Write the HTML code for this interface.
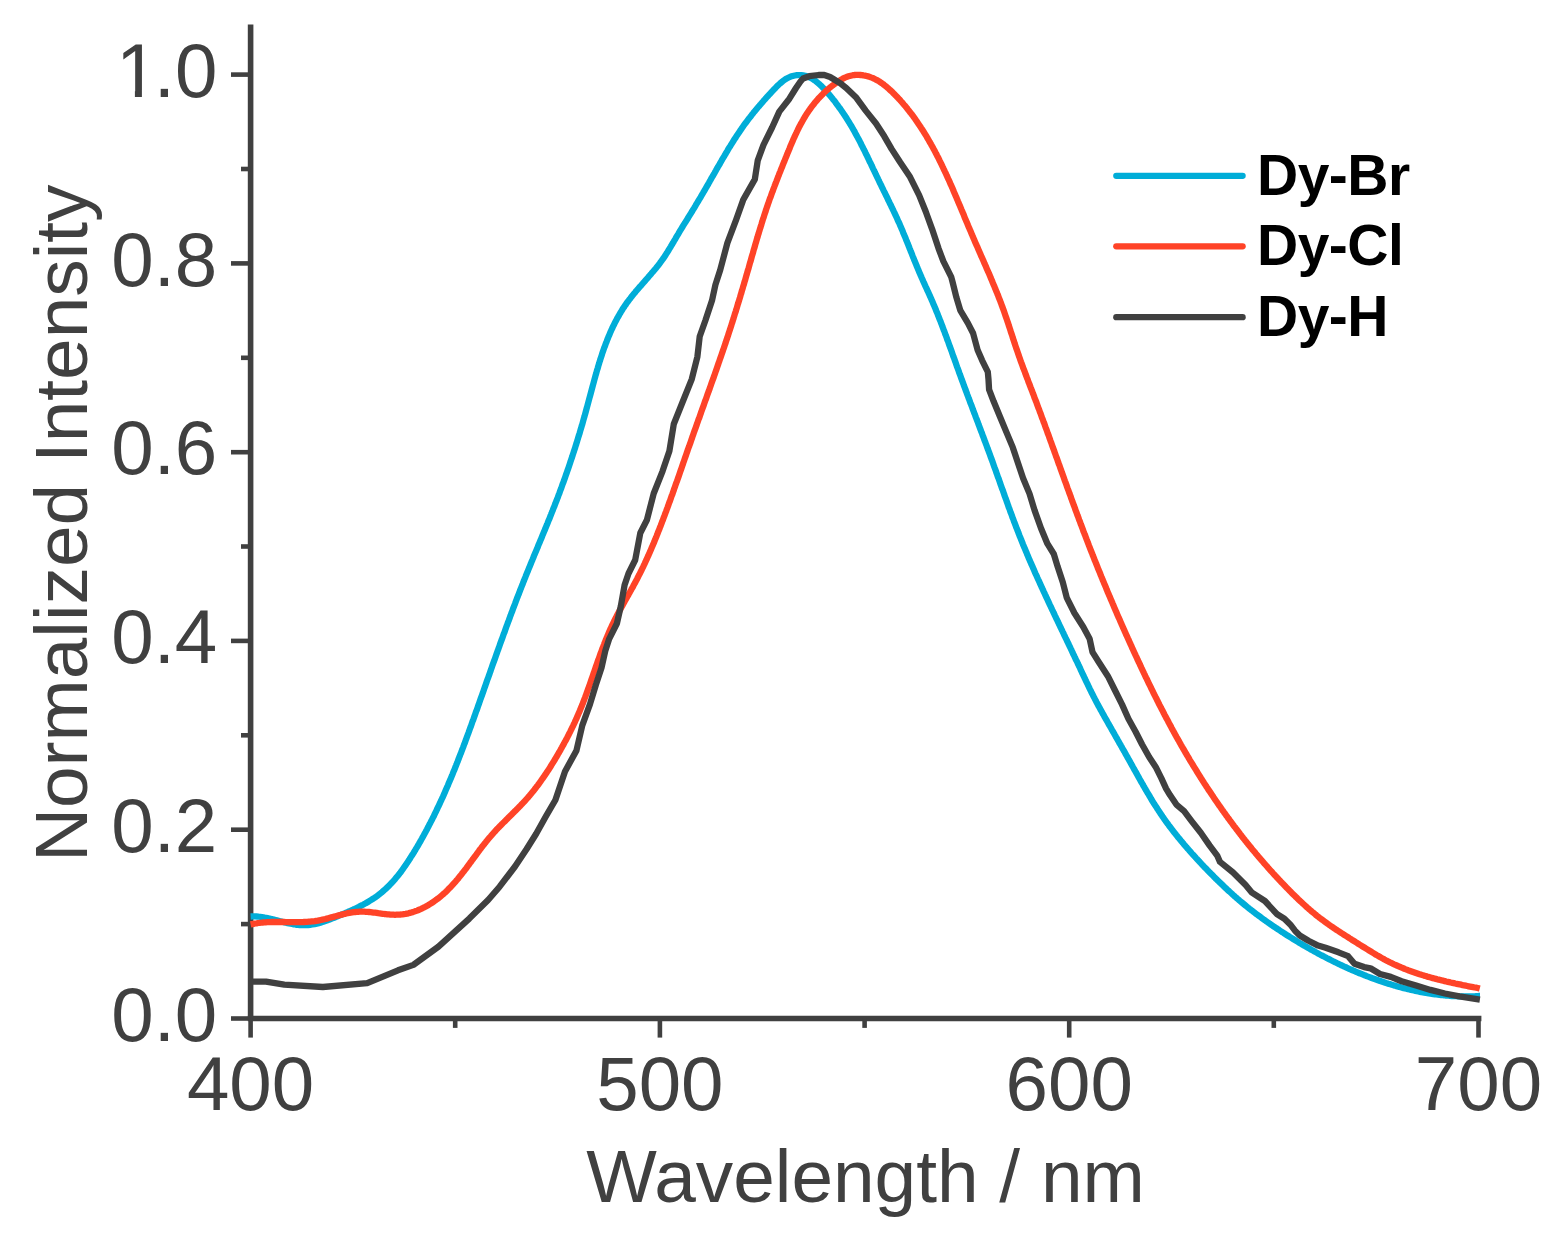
<!DOCTYPE html>
<html><head><meta charset="utf-8"><title>Normalized Intensity vs Wavelength</title>
<style>
html,body{margin:0;padding:0;background:#fff;}
body{width:1557px;height:1248px;overflow:hidden;}
svg{display:block;}
.t{font-family:"Liberation Sans",Arial,sans-serif;font-size:76.3px;fill:#404040;}
.ti{font-family:"Liberation Sans",Arial,sans-serif;font-size:74.8px;fill:#404040;}
.lg{font-family:"Liberation Sans",Arial,sans-serif;font-size:57px;font-weight:bold;fill:#000;letter-spacing:-0.5px;}
</style></head>
<body>
<svg width="1557" height="1248" viewBox="0 0 1557 1248">
<rect width="1557" height="1248" fill="#fff"/>
<line x1="250.6" y1="24.4" x2="250.6" y2="1018.5" stroke="#404040" stroke-width="5.6"/>
<line x1="247.8" y1="1018.5" x2="1481.4" y2="1018.5" stroke="#404040" stroke-width="5.6"/>
<line x1="231" y1="1018.5" x2="250.6" y2="1018.5" stroke="#404040" stroke-width="4.6"/>
<line x1="241" y1="924.1" x2="250.6" y2="924.1" stroke="#404040" stroke-width="4.6"/>
<line x1="231" y1="829.7" x2="250.6" y2="829.7" stroke="#404040" stroke-width="4.6"/>
<line x1="241" y1="735.3" x2="250.6" y2="735.3" stroke="#404040" stroke-width="4.6"/>
<line x1="231" y1="640.9" x2="250.6" y2="640.9" stroke="#404040" stroke-width="4.6"/>
<line x1="241" y1="546.5" x2="250.6" y2="546.5" stroke="#404040" stroke-width="4.6"/>
<line x1="231" y1="452.2" x2="250.6" y2="452.2" stroke="#404040" stroke-width="4.6"/>
<line x1="241" y1="357.8" x2="250.6" y2="357.8" stroke="#404040" stroke-width="4.6"/>
<line x1="231" y1="263.4" x2="250.6" y2="263.4" stroke="#404040" stroke-width="4.6"/>
<line x1="241" y1="169.0" x2="250.6" y2="169.0" stroke="#404040" stroke-width="4.6"/>
<line x1="231" y1="74.6" x2="250.6" y2="74.6" stroke="#404040" stroke-width="4.6"/>
<line x1="250.6" y1="1018.5" x2="250.6" y2="1037.6" stroke="#404040" stroke-width="4.6"/>
<line x1="455.2" y1="1018.5" x2="455.2" y2="1027.9" stroke="#404040" stroke-width="4.6"/>
<line x1="659.9" y1="1018.5" x2="659.9" y2="1037.6" stroke="#404040" stroke-width="4.6"/>
<line x1="864.6" y1="1018.5" x2="864.6" y2="1027.9" stroke="#404040" stroke-width="4.6"/>
<line x1="1069.2" y1="1018.5" x2="1069.2" y2="1037.6" stroke="#404040" stroke-width="4.6"/>
<line x1="1273.8" y1="1018.5" x2="1273.8" y2="1027.9" stroke="#404040" stroke-width="4.6"/>
<line x1="1478.5" y1="1018.5" x2="1478.5" y2="1037.6" stroke="#404040" stroke-width="4.6"/>
<path d="M250.6,916.5 L252.8,916.4 L255.0,916.4 L257.3,916.5 L258.8,916.7 L260.3,916.8 L261.8,917.0 L263.3,917.3 L264.8,917.6 L266.3,917.8 L267.8,918.2 L269.3,918.5 L270.8,918.9 L272.4,919.2 L273.9,919.6 L275.4,920.0 L276.9,920.4 L278.5,920.8 L280.0,921.2 L281.5,921.6 L283.1,922.0 L284.6,922.4 L286.1,922.7 L287.6,923.1 L289.1,923.4 L290.7,923.7 L292.2,924.0 L293.7,924.3 L295.2,924.5 L296.7,924.8 L298.2,924.9 L299.7,925.1 L301.2,925.2 L303.5,925.2 L305.7,925.2 L307.9,925.1 L310.1,924.8 L312.3,924.5 L314.5,924.1 L316.7,923.6 L318.8,923.1 L320.3,922.7 L321.7,922.2 L323.2,921.8 L324.6,921.3 L326.0,920.8 L327.5,920.3 L328.9,919.7 L330.4,919.2 L331.8,918.6 L333.2,918.1 L334.7,917.5 L336.1,916.9 L337.5,916.3 L339.0,915.7 L340.4,915.1 L341.8,914.5 L343.3,913.9 L344.7,913.3 L346.1,912.7 L347.6,912.1 L349.0,911.4 L350.4,910.8 L351.8,910.2 L353.3,909.5 L354.7,908.9 L356.1,908.2 L357.5,907.5 L358.9,906.8 L360.2,906.1 L361.6,905.4 L363.0,904.7 L364.3,904.0 L365.7,903.3 L367.0,902.5 L368.3,901.7 L369.6,900.9 L370.9,900.1 L372.2,899.3 L373.5,898.5 L374.8,897.6 L376.0,896.8 L377.2,895.9 L378.4,895.0 L379.6,894.1 L380.8,893.1 L382.0,892.2 L383.1,891.2 L384.2,890.2 L385.4,889.2 L386.5,888.2 L387.5,887.1 L388.6,886.1 L389.7,885.0 L390.7,883.9 L391.7,882.8 L392.8,881.7 L393.8,880.6 L394.8,879.4 L395.7,878.3 L396.7,877.1 L397.7,875.9 L398.6,874.8 L399.5,873.6 L400.5,872.4 L401.4,871.1 L402.3,869.9 L403.2,868.7 L404.0,867.4 L404.9,866.2 L405.8,864.9 L406.6,863.6 L407.5,862.4 L408.3,861.1 L409.2,859.8 L410.0,858.5 L410.8,857.2 L411.6,855.9 L412.5,854.6 L413.3,853.3 L414.1,852.0 L414.9,850.7 L415.6,849.4 L416.4,848.1 L417.2,846.8 L418.0,845.5 L418.8,844.1 L419.5,842.8 L420.3,841.5 L421.0,840.2 L421.8,838.8 L422.5,837.5 L423.3,836.2 L424.0,834.8 L424.7,833.5 L425.5,832.1 L426.2,830.8 L426.9,829.5 L427.6,828.1 L428.3,826.8 L429.0,825.4 L429.7,824.0 L430.4,822.7 L431.1,821.3 L431.8,820.0 L432.5,818.6 L433.2,817.2 L433.9,815.9 L434.5,814.5 L435.2,813.1 L435.9,811.8 L436.5,810.4 L437.2,809.0 L437.8,807.6 L438.5,806.3 L439.1,804.9 L439.8,803.5 L440.4,802.1 L441.1,800.7 L441.7,799.3 L442.3,798.0 L443.0,796.6 L443.6,795.2 L444.2,793.8 L444.8,792.4 L445.4,791.0 L446.0,789.6 L446.6,788.2 L447.2,786.8 L447.9,785.4 L448.4,784.0 L449.0,782.6 L449.6,781.2 L450.2,779.8 L450.8,778.4 L451.4,777.0 L452.0,775.6 L452.6,774.1 L453.1,772.7 L453.7,771.3 L454.3,769.9 L454.9,768.5 L455.4,767.1 L456.0,765.7 L456.6,764.2 L457.1,762.8 L457.7,761.4 L458.2,760.0 L458.8,758.5 L459.3,757.1 L459.9,755.7 L460.4,754.3 L461.0,752.9 L461.5,751.4 L462.1,750.0 L462.6,748.6 L463.2,747.1 L463.7,745.7 L464.2,744.3 L464.8,742.9 L465.3,741.4 L465.8,740.0 L466.4,738.6 L466.9,737.1 L467.4,735.7 L467.9,734.3 L468.5,732.8 L469.0,731.4 L469.5,730.0 L470.0,728.5 L470.6,727.1 L471.1,725.7 L471.6,724.2 L472.1,722.8 L472.6,721.3 L473.2,719.9 L473.7,718.5 L474.2,717.0 L474.7,715.6 L475.2,714.2 L475.7,712.7 L476.2,711.3 L476.8,709.9 L477.3,708.4 L477.8,707.0 L478.3,705.5 L478.8,704.1 L479.3,702.7 L479.8,701.2 L480.3,699.8 L480.8,698.4 L481.3,696.9 L481.9,695.5 L482.4,694.0 L482.9,692.6 L483.4,691.2 L483.9,689.7 L484.4,688.3 L484.9,686.9 L485.4,685.4 L485.9,684.0 L486.4,682.6 L486.9,681.1 L487.4,679.7 L488.0,678.2 L488.5,676.8 L489.0,675.4 L489.5,673.9 L490.0,672.5 L490.5,671.1 L491.0,669.6 L491.5,668.2 L492.0,666.8 L492.5,665.3 L493.0,663.9 L493.5,662.5 L494.1,661.0 L494.6,659.6 L495.1,658.2 L495.6,656.7 L496.1,655.3 L496.6,653.9 L497.1,652.4 L497.6,651.0 L498.2,649.6 L498.7,648.1 L499.2,646.7 L499.7,645.3 L500.2,643.8 L500.7,642.4 L501.2,641.0 L501.8,639.5 L502.3,638.1 L502.8,636.7 L503.3,635.2 L503.8,633.8 L504.4,632.4 L504.9,630.9 L505.4,629.5 L505.9,628.1 L506.4,626.7 L507.0,625.2 L507.5,623.8 L508.0,622.4 L508.6,620.9 L509.1,619.5 L509.6,618.1 L510.1,616.7 L510.7,615.2 L511.2,613.8 L511.7,612.4 L512.3,611.0 L512.8,609.5 L513.3,608.1 L513.9,606.7 L514.4,605.3 L515.0,603.8 L515.5,602.4 L516.0,601.0 L516.6,599.6 L517.1,598.1 L517.7,596.7 L518.2,595.3 L518.8,593.9 L519.3,592.4 L519.9,591.0 L520.4,589.6 L521.0,588.2 L521.5,586.8 L522.1,585.3 L522.7,583.9 L523.2,582.5 L523.8,581.1 L524.3,579.7 L524.9,578.3 L525.5,576.8 L526.0,575.4 L526.6,574.0 L527.2,572.6 L527.8,571.2 L528.3,569.8 L528.9,568.3 L529.5,566.9 L530.1,565.5 L530.7,564.1 L531.2,562.7 L531.8,561.3 L532.4,559.9 L533.0,558.4 L533.6,557.0 L534.1,555.6 L534.7,554.2 L535.3,552.8 L535.9,551.4 L536.5,550.0 L537.1,548.6 L537.7,547.2 L538.2,545.7 L538.8,544.3 L539.4,542.9 L540.0,541.5 L540.6,540.1 L541.2,538.7 L541.8,537.3 L542.3,535.9 L542.9,534.4 L543.5,533.0 L544.1,531.6 L544.7,530.2 L545.3,528.8 L545.8,527.4 L546.4,526.0 L547.0,524.6 L547.6,523.1 L548.1,521.7 L548.7,520.3 L549.3,518.9 L549.9,517.5 L550.4,516.1 L551.0,514.7 L551.6,513.2 L552.1,511.8 L552.7,510.4 L553.2,509.0 L553.8,507.6 L554.4,506.2 L554.9,504.7 L555.5,503.3 L556.0,501.9 L556.6,500.5 L557.1,499.1 L557.7,497.6 L558.2,496.2 L558.7,494.8 L559.3,493.4 L559.8,492.0 L560.3,490.5 L560.9,489.1 L561.4,487.7 L561.9,486.3 L562.4,484.8 L562.9,483.4 L563.5,482.0 L564.0,480.5 L564.5,479.1 L565.0,477.7 L565.5,476.3 L566.0,474.8 L566.5,473.4 L567.0,472.0 L567.5,470.5 L568.0,469.1 L568.5,467.7 L569.0,466.2 L569.5,464.8 L570.0,463.3 L570.4,461.9 L570.9,460.5 L571.4,459.0 L571.9,457.6 L572.4,456.1 L572.8,454.7 L573.3,453.3 L573.8,451.8 L574.2,450.4 L574.7,448.9 L575.2,447.5 L575.6,446.0 L576.1,444.6 L576.5,443.1 L577.0,441.7 L577.4,440.2 L577.9,438.8 L578.3,437.3 L578.8,435.8 L579.2,434.4 L579.7,432.9 L580.1,431.5 L580.5,430.0 L581.0,428.5 L581.4,427.1 L581.8,425.6 L582.3,424.2 L582.7,422.7 L583.1,421.2 L583.5,419.7 L583.9,418.3 L584.4,416.8 L584.8,415.3 L585.2,413.9 L585.6,412.4 L586.0,410.9 L586.4,409.4 L586.8,407.9 L587.2,406.5 L587.6,405.0 L588.0,403.5 L588.4,402.0 L588.8,400.5 L589.2,399.0 L589.6,397.5 L590.0,396.1 L590.4,394.6 L590.8,393.1 L591.2,391.6 L591.6,390.1 L592.0,388.6 L592.4,387.1 L592.8,385.7 L593.2,384.2 L593.6,382.7 L594.0,381.2 L594.4,379.7 L594.8,378.2 L595.2,376.8 L595.6,375.3 L596.1,373.8 L596.5,372.3 L596.9,370.8 L597.3,369.4 L597.8,367.9 L598.2,366.4 L598.6,365.0 L599.1,363.5 L599.5,362.0 L600.0,360.6 L600.4,359.1 L600.9,357.7 L601.4,356.2 L601.9,354.8 L602.3,353.3 L602.8,351.9 L603.3,350.4 L603.8,349.0 L604.3,347.6 L604.9,346.2 L605.4,344.7 L605.9,343.3 L606.5,341.9 L607.0,340.5 L607.6,339.1 L608.1,337.7 L608.7,336.3 L609.3,334.9 L609.9,333.5 L610.5,332.1 L611.1,330.7 L611.7,329.4 L612.4,328.0 L613.0,326.6 L613.7,325.3 L614.3,323.9 L615.0,322.6 L615.7,321.3 L616.4,319.9 L617.1,318.6 L617.8,317.3 L618.6,316.0 L619.3,314.7 L620.1,313.4 L620.8,312.1 L621.6,310.8 L622.4,309.5 L623.2,308.2 L624.1,307.0 L624.9,305.7 L625.8,304.5 L626.6,303.2 L627.5,302.0 L628.4,300.8 L629.3,299.6 L630.3,298.4 L631.2,297.2 L632.1,296.0 L633.1,294.8 L634.1,293.6 L635.1,292.4 L636.0,291.2 L637.0,290.1 L638.0,288.9 L639.0,287.7 L640.1,286.6 L641.1,285.4 L642.1,284.2 L643.1,283.1 L644.1,281.9 L645.2,280.8 L646.2,279.6 L647.2,278.4 L648.2,277.3 L649.2,276.1 L650.2,274.9 L651.2,273.8 L652.2,272.6 L653.2,271.4 L654.2,270.2 L655.2,269.1 L656.2,267.9 L657.1,266.7 L658.1,265.5 L659.0,264.3 L659.9,263.1 L660.8,261.8 L661.7,260.6 L662.6,259.4 L663.5,258.1 L664.3,256.9 L665.2,255.6 L666.0,254.3 L666.8,253.1 L667.6,251.8 L668.4,250.5 L669.2,249.2 L670.0,247.9 L670.8,246.6 L671.5,245.3 L672.3,244.0 L673.1,242.7 L673.8,241.4 L674.6,240.1 L675.4,238.8 L676.1,237.5 L676.9,236.2 L677.7,234.9 L678.5,233.6 L679.2,232.3 L680.0,230.9 L680.8,229.6 L681.6,228.3 L682.4,227.0 L683.2,225.7 L684.0,224.4 L684.8,223.1 L685.6,221.9 L686.4,220.6 L687.2,219.3 L688.0,218.0 L688.8,216.7 L689.6,215.4 L690.4,214.1 L691.2,212.8 L692.0,211.5 L692.8,210.2 L693.6,208.9 L694.4,207.6 L695.2,206.2 L695.9,204.9 L696.7,203.6 L697.5,202.3 L698.3,201.0 L699.1,199.7 L699.9,198.4 L700.7,197.1 L701.4,195.8 L702.2,194.4 L703.0,193.1 L703.7,191.8 L704.5,190.5 L705.3,189.2 L706.0,187.8 L706.8,186.5 L707.6,185.2 L708.3,183.9 L709.1,182.5 L709.8,181.2 L710.6,179.9 L711.3,178.5 L712.1,177.2 L712.9,175.9 L713.6,174.6 L714.4,173.2 L715.1,171.9 L715.9,170.6 L716.6,169.3 L717.4,167.9 L718.1,166.6 L718.9,165.3 L719.7,164.0 L720.4,162.6 L721.2,161.3 L721.9,160.0 L722.7,158.7 L723.5,157.4 L724.3,156.1 L725.0,154.8 L725.8,153.5 L726.6,152.1 L727.4,150.8 L728.1,149.5 L728.9,148.2 L729.7,146.9 L730.5,145.7 L731.3,144.4 L732.1,143.1 L732.9,141.8 L733.7,140.5 L734.5,139.2 L735.4,138.0 L736.2,136.7 L737.0,135.4 L737.9,134.2 L738.7,132.9 L739.5,131.7 L740.4,130.4 L741.2,129.2 L742.1,127.9 L743.0,126.7 L743.8,125.4 L744.7,124.2 L745.6,123.0 L746.5,121.8 L747.4,120.6 L748.3,119.4 L749.2,118.2 L750.2,117.0 L751.1,115.8 L752.0,114.6 L753.0,113.4 L753.9,112.2 L754.9,111.1 L755.8,109.9 L756.8,108.7 L757.8,107.5 L758.8,106.4 L759.8,105.2 L760.8,104.1 L761.8,102.9 L762.8,101.8 L763.8,100.6 L764.8,99.4 L765.9,98.3 L766.9,97.1 L768.0,96.0 L769.0,94.8 L770.1,93.7 L771.1,92.5 L772.2,91.3 L773.3,90.2 L774.4,89.0 L775.5,87.9 L776.6,86.7 L777.7,85.6 L778.9,84.5 L780.0,83.5 L781.2,82.5 L782.4,81.5 L783.6,80.6 L784.8,79.7 L786.7,78.5 L788.7,77.5 L790.7,76.6 L792.7,76.0 L794.8,75.5 L796.9,75.2 L799.1,75.1 L801.2,75.1 L803.3,75.4 L805.4,75.8 L807.4,76.4 L809.4,77.3 L811.3,78.2 L813.2,79.4 L814.5,80.2 L815.7,81.1 L816.9,82.1 L818.1,83.1 L819.3,84.1 L820.5,85.2 L821.6,86.3 L822.7,87.4 L823.8,88.6 L824.9,89.7 L826.0,90.9 L827.1,92.1 L828.1,93.3 L829.2,94.6 L830.2,95.8 L831.2,97.0 L832.2,98.2 L833.1,99.4 L834.1,100.6 L835.1,101.8 L836.0,103.1 L836.9,104.3 L837.8,105.5 L838.7,106.8 L839.6,108.0 L840.5,109.2 L841.4,110.5 L842.2,111.7 L843.1,113.0 L843.9,114.2 L844.8,115.5 L845.6,116.8 L846.4,118.0 L847.2,119.3 L848.0,120.6 L849.2,122.5 L850.3,124.4 L851.5,126.3 L852.6,128.3 L853.7,130.2 L854.5,131.5 L855.2,132.9 L855.9,134.2 L856.6,135.5 L857.3,136.8 L858.1,138.2 L858.8,139.5 L859.5,140.8 L860.2,142.2 L860.9,143.5 L861.5,144.9 L862.2,146.2 L862.9,147.6 L863.6,149.0 L864.3,150.3 L865.0,151.7 L865.6,153.1 L866.3,154.5 L867.0,155.8 L867.6,157.2 L868.3,158.6 L869.0,160.0 L869.6,161.4 L870.3,162.7 L871.0,164.1 L871.6,165.5 L872.3,166.9 L872.9,168.3 L873.6,169.7 L874.3,171.0 L874.9,172.4 L875.6,173.8 L876.2,175.2 L876.9,176.6 L877.6,178.0 L878.2,179.3 L878.9,180.7 L879.5,182.1 L880.2,183.5 L880.9,184.8 L881.5,186.2 L882.2,187.6 L882.9,189.0 L883.5,190.3 L884.2,191.7 L884.9,193.1 L885.6,194.4 L886.2,195.8 L886.9,197.1 L887.6,198.5 L888.2,199.9 L888.9,201.2 L889.5,202.6 L890.2,204.0 L890.9,205.3 L891.5,206.7 L892.2,208.0 L892.8,209.4 L893.5,210.8 L894.1,212.1 L894.8,213.5 L895.4,214.9 L896.0,216.2 L896.7,217.6 L897.3,219.0 L897.9,220.4 L898.5,221.8 L899.2,223.1 L899.8,224.5 L900.4,225.9 L901.0,227.3 L901.6,228.7 L902.2,230.1 L902.8,231.5 L903.3,232.9 L903.9,234.3 L904.5,235.7 L905.1,237.1 L905.7,238.5 L906.2,239.9 L906.8,241.3 L907.4,242.7 L907.9,244.1 L908.5,245.5 L909.1,247.0 L909.6,248.4 L910.2,249.8 L910.7,251.2 L911.3,252.6 L911.9,254.0 L912.4,255.4 L913.0,256.9 L913.6,258.3 L914.1,259.7 L914.7,261.1 L915.3,262.5 L915.9,263.9 L916.4,265.3 L917.0,266.7 L917.6,268.1 L918.2,269.6 L918.8,271.0 L919.4,272.4 L920.0,273.8 L920.6,275.2 L921.2,276.6 L921.8,278.0 L922.4,279.3 L923.0,280.7 L923.6,282.1 L924.3,283.5 L924.9,284.9 L925.5,286.3 L926.2,287.7 L926.8,289.1 L927.4,290.5 L928.1,291.8 L928.7,293.2 L929.3,294.6 L929.9,296.0 L930.6,297.4 L931.2,298.8 L931.8,300.2 L932.4,301.6 L933.0,303.0 L933.6,304.4 L934.2,305.8 L934.8,307.2 L935.4,308.6 L935.9,310.0 L936.5,311.4 L937.1,312.8 L937.7,314.2 L938.2,315.7 L938.8,317.1 L939.3,318.5 L939.9,319.9 L940.5,321.3 L941.0,322.8 L941.6,324.2 L942.1,325.6 L942.6,327.0 L943.2,328.4 L943.7,329.9 L944.3,331.3 L944.8,332.7 L945.3,334.2 L945.9,335.6 L946.4,337.0 L946.9,338.4 L947.4,339.9 L948.0,341.3 L948.5,342.7 L949.0,344.2 L949.5,345.6 L950.0,347.0 L950.6,348.5 L951.1,349.9 L951.6,351.3 L952.1,352.8 L952.6,354.2 L953.1,355.7 L953.6,357.1 L954.2,358.5 L954.7,360.0 L955.2,361.4 L955.7,362.8 L956.2,364.3 L956.7,365.7 L957.2,367.1 L957.8,368.6 L958.3,370.0 L958.8,371.4 L959.3,372.9 L959.8,374.3 L960.4,375.7 L960.9,377.2 L961.4,378.6 L961.9,380.0 L962.5,381.5 L963.0,382.9 L963.5,384.3 L964.0,385.8 L964.6,387.2 L965.1,388.6 L965.6,390.0 L966.2,391.5 L966.7,392.9 L967.2,394.3 L967.8,395.8 L968.3,397.2 L968.8,398.6 L969.4,400.0 L969.9,401.5 L970.4,402.9 L971.0,404.3 L971.5,405.7 L972.1,407.2 L972.6,408.6 L973.1,410.0 L973.7,411.4 L974.2,412.9 L974.8,414.3 L975.3,415.7 L975.8,417.1 L976.4,418.6 L976.9,420.0 L977.5,421.4 L978.0,422.8 L978.5,424.3 L979.1,425.7 L979.6,427.1 L980.1,428.5 L980.7,430.0 L981.2,431.4 L981.8,432.8 L982.3,434.2 L982.8,435.7 L983.4,437.1 L983.9,438.5 L984.4,440.0 L985.0,441.4 L985.5,442.8 L986.0,444.2 L986.6,445.7 L987.1,447.1 L987.6,448.5 L988.2,450.0 L988.7,451.4 L989.2,452.8 L989.8,454.2 L990.3,455.7 L990.8,457.1 L991.3,458.5 L991.9,460.0 L992.4,461.4 L992.9,462.8 L993.4,464.3 L993.9,465.7 L994.4,467.1 L995.0,468.6 L995.5,470.0 L996.0,471.4 L996.5,472.9 L997.0,474.3 L997.5,475.8 L998.0,477.2 L998.6,478.6 L999.1,480.1 L999.6,481.5 L1000.1,482.9 L1000.6,484.4 L1001.1,485.8 L1001.6,487.3 L1002.1,488.7 L1002.7,490.1 L1003.2,491.6 L1003.7,493.0 L1004.2,494.4 L1004.7,495.9 L1005.2,497.3 L1005.7,498.7 L1006.3,500.2 L1006.8,501.6 L1007.3,503.1 L1007.8,504.5 L1008.3,505.9 L1008.8,507.4 L1009.4,508.8 L1009.9,510.2 L1010.4,511.7 L1010.9,513.1 L1011.5,514.5 L1012.0,515.9 L1012.5,517.4 L1013.1,518.8 L1013.6,520.2 L1014.1,521.7 L1014.7,523.1 L1015.2,524.5 L1015.8,525.9 L1016.3,527.4 L1016.9,528.8 L1017.4,530.2 L1018.0,531.6 L1018.5,533.0 L1019.1,534.5 L1019.6,535.9 L1020.2,537.3 L1020.8,538.7 L1021.3,540.1 L1021.9,541.5 L1022.5,543.0 L1023.0,544.4 L1023.6,545.8 L1024.2,547.2 L1024.8,548.6 L1025.4,550.0 L1026.0,551.4 L1026.6,552.8 L1027.1,554.2 L1027.7,555.6 L1028.3,557.0 L1028.9,558.4 L1029.5,559.8 L1030.1,561.2 L1030.7,562.6 L1031.3,564.0 L1032.0,565.4 L1032.6,566.8 L1033.2,568.2 L1033.8,569.6 L1034.4,571.0 L1035.0,572.4 L1035.6,573.8 L1036.3,575.2 L1036.9,576.6 L1037.5,578.0 L1038.1,579.3 L1038.8,580.7 L1039.4,582.1 L1040.0,583.5 L1040.7,584.9 L1041.3,586.3 L1041.9,587.7 L1042.6,589.1 L1043.2,590.4 L1043.8,591.8 L1044.5,593.2 L1045.1,594.6 L1045.8,596.0 L1046.4,597.4 L1047.0,598.7 L1047.7,600.1 L1048.3,601.5 L1049.0,602.9 L1049.6,604.3 L1050.3,605.7 L1050.9,607.0 L1051.6,608.4 L1052.2,609.8 L1052.9,611.2 L1053.5,612.5 L1054.2,613.9 L1054.8,615.3 L1055.5,616.7 L1056.1,618.1 L1056.8,619.4 L1057.5,620.8 L1058.1,622.2 L1058.8,623.6 L1059.4,624.9 L1060.1,626.3 L1060.7,627.7 L1061.4,629.1 L1062.1,630.5 L1062.7,631.8 L1063.4,633.2 L1064.0,634.6 L1064.7,636.0 L1065.3,637.3 L1066.0,638.7 L1066.7,640.1 L1067.3,641.5 L1068.0,642.8 L1068.6,644.2 L1069.3,645.6 L1070.0,647.0 L1070.6,648.3 L1071.3,649.7 L1071.9,651.1 L1072.6,652.5 L1073.2,653.9 L1073.9,655.2 L1074.5,656.6 L1075.2,658.0 L1075.8,659.4 L1076.5,660.7 L1077.2,662.1 L1077.8,663.5 L1078.5,664.9 L1079.1,666.3 L1079.8,667.6 L1080.4,669.0 L1081.0,670.4 L1081.7,671.8 L1082.3,673.2 L1083.0,674.5 L1083.6,675.9 L1084.3,677.3 L1084.9,678.7 L1085.6,680.1 L1086.2,681.4 L1086.9,682.8 L1087.6,684.2 L1088.2,685.6 L1088.9,686.9 L1089.5,688.3 L1090.2,689.7 L1090.9,691.0 L1091.5,692.4 L1092.2,693.8 L1092.9,695.1 L1093.6,696.5 L1094.3,697.8 L1095.0,699.2 L1095.7,700.5 L1096.4,701.9 L1097.1,703.2 L1097.8,704.6 L1098.5,705.9 L1099.3,707.3 L1100.0,708.6 L1100.7,709.9 L1101.5,711.3 L1102.2,712.6 L1102.9,713.9 L1103.7,715.2 L1104.4,716.6 L1105.2,717.9 L1105.9,719.2 L1106.7,720.5 L1107.4,721.8 L1108.2,723.2 L1108.9,724.5 L1109.7,725.8 L1110.4,727.1 L1111.2,728.4 L1111.9,729.8 L1112.7,731.1 L1113.4,732.4 L1114.2,733.7 L1114.9,735.0 L1115.7,736.4 L1116.4,737.7 L1117.2,739.0 L1117.9,740.3 L1118.7,741.6 L1119.4,743.0 L1120.2,744.3 L1120.9,745.6 L1121.7,746.9 L1122.4,748.3 L1123.2,749.6 L1123.9,750.9 L1124.7,752.2 L1125.4,753.5 L1126.1,754.9 L1126.9,756.2 L1127.6,757.5 L1128.4,758.8 L1129.1,760.2 L1129.9,761.5 L1130.6,762.8 L1131.3,764.2 L1132.1,765.5 L1132.8,766.8 L1133.6,768.2 L1134.3,769.5 L1135.1,770.8 L1135.8,772.2 L1136.6,773.5 L1137.3,774.8 L1138.0,776.2 L1138.8,777.5 L1139.5,778.8 L1140.3,780.2 L1141.0,781.5 L1141.8,782.8 L1142.6,784.1 L1143.3,785.5 L1144.1,786.8 L1144.8,788.1 L1145.6,789.5 L1146.4,790.8 L1147.1,792.1 L1147.9,793.4 L1148.7,794.7 L1149.5,796.0 L1150.3,797.3 L1151.0,798.7 L1151.8,800.0 L1152.6,801.3 L1153.4,802.6 L1154.2,803.9 L1155.1,805.2 L1155.9,806.4 L1156.7,807.7 L1157.5,809.0 L1158.4,810.3 L1159.2,811.6 L1160.0,812.8 L1160.9,814.1 L1161.7,815.3 L1162.6,816.6 L1163.5,817.8 L1164.3,819.1 L1165.2,820.3 L1166.1,821.6 L1167.0,822.8 L1167.9,824.0 L1168.8,825.3 L1169.7,826.5 L1170.6,827.7 L1171.5,828.9 L1172.5,830.1 L1173.4,831.3 L1174.3,832.5 L1175.3,833.7 L1176.2,834.9 L1177.2,836.1 L1178.1,837.3 L1179.1,838.4 L1180.0,839.6 L1181.0,840.8 L1182.0,841.9 L1182.9,843.1 L1183.9,844.3 L1184.9,845.4 L1185.9,846.6 L1186.9,847.7 L1187.9,848.9 L1188.9,850.0 L1189.9,851.2 L1190.9,852.3 L1191.9,853.5 L1192.9,854.6 L1194.0,855.7 L1195.0,856.8 L1196.0,858.0 L1197.0,859.1 L1198.1,860.2 L1199.1,861.3 L1200.2,862.4 L1201.2,863.6 L1202.2,864.7 L1203.3,865.8 L1204.3,866.9 L1205.4,868.0 L1206.5,869.1 L1207.5,870.2 L1208.6,871.3 L1209.6,872.4 L1210.7,873.4 L1211.8,874.5 L1212.9,875.6 L1213.9,876.7 L1215.0,877.8 L1216.1,878.9 L1217.2,879.9 L1218.3,881.0 L1219.4,882.1 L1220.5,883.1 L1221.6,884.2 L1222.7,885.2 L1223.8,886.3 L1224.9,887.3 L1226.0,888.4 L1227.1,889.4 L1228.2,890.5 L1229.4,891.5 L1230.5,892.5 L1231.6,893.5 L1232.7,894.6 L1233.9,895.6 L1235.0,896.6 L1236.2,897.6 L1237.3,898.6 L1238.5,899.6 L1239.6,900.6 L1240.8,901.6 L1241.9,902.5 L1243.1,903.5 L1244.3,904.5 L1245.5,905.5 L1246.6,906.4 L1247.8,907.4 L1249.0,908.3 L1250.2,909.3 L1251.4,910.2 L1252.6,911.1 L1253.8,912.1 L1255.0,913.0 L1256.2,913.9 L1257.4,914.8 L1258.6,915.7 L1259.9,916.6 L1261.1,917.5 L1262.3,918.4 L1263.5,919.3 L1264.8,920.2 L1266.0,921.1 L1267.3,922.0 L1268.5,922.8 L1269.7,923.7 L1271.0,924.6 L1272.2,925.4 L1273.5,926.3 L1274.8,927.2 L1276.0,928.0 L1277.3,928.8 L1278.6,929.7 L1279.8,930.5 L1281.1,931.4 L1282.4,932.2 L1283.6,933.0 L1284.9,933.8 L1286.2,934.7 L1287.5,935.5 L1288.8,936.3 L1290.1,937.1 L1291.4,937.9 L1292.7,938.7 L1294.0,939.5 L1295.3,940.3 L1296.6,941.1 L1297.9,941.9 L1299.2,942.7 L1300.5,943.4 L1301.8,944.2 L1303.1,945.0 L1304.4,945.8 L1305.7,946.5 L1307.1,947.3 L1308.4,948.1 L1309.7,948.8 L1311.0,949.6 L1312.4,950.3 L1313.7,951.0 L1315.0,951.8 L1316.4,952.5 L1317.7,953.2 L1319.0,954.0 L1320.4,954.7 L1321.7,955.4 L1323.1,956.1 L1324.4,956.8 L1325.8,957.5 L1327.1,958.2 L1328.5,958.9 L1329.9,959.6 L1331.2,960.3 L1332.6,961.0 L1334.0,961.7 L1335.3,962.3 L1336.7,963.0 L1338.1,963.7 L1339.4,964.3 L1340.8,965.0 L1342.2,965.6 L1343.6,966.3 L1345.0,966.9 L1346.4,967.5 L1347.7,968.2 L1349.1,968.8 L1350.5,969.4 L1351.9,970.0 L1353.3,970.6 L1354.7,971.2 L1356.1,971.8 L1357.5,972.4 L1358.9,973.0 L1360.3,973.6 L1361.8,974.1 L1363.2,974.7 L1364.6,975.3 L1366.0,975.8 L1367.4,976.4 L1368.8,976.9 L1370.3,977.4 L1371.7,978.0 L1373.1,978.5 L1374.6,979.0 L1376.0,979.5 L1377.4,980.0 L1378.9,980.6 L1380.3,981.0 L1381.7,981.5 L1383.2,982.0 L1384.6,982.5 L1386.1,983.0 L1387.5,983.4 L1389.0,983.9 L1390.4,984.3 L1391.9,984.8 L1393.4,985.2 L1394.8,985.6 L1396.3,986.1 L1397.7,986.5 L1399.2,986.9 L1400.7,987.3 L1402.1,987.7 L1403.6,988.1 L1405.1,988.4 L1406.6,988.8 L1408.0,989.2 L1409.5,989.5 L1411.0,989.9 L1412.5,990.2 L1414.0,990.5 L1415.5,990.9 L1416.9,991.2 L1418.4,991.5 L1419.9,991.8 L1421.4,992.1 L1422.9,992.3 L1424.4,992.6 L1425.9,992.9 L1427.4,993.1 L1428.9,993.4 L1430.4,993.6 L1431.9,993.8 L1433.4,994.1 L1434.9,994.3 L1436.4,994.5 L1437.9,994.7 L1439.5,994.9 L1441.0,995.0 L1442.5,995.2 L1444.0,995.3 L1445.5,995.5 L1447.0,995.6 L1448.6,995.7 L1450.1,995.9 L1451.6,996.0 L1453.1,996.1 L1454.6,996.1 L1456.2,996.2 L1457.7,996.3 L1459.2,996.3 L1460.8,996.4 L1462.3,996.4 L1463.8,996.4 L1465.3,996.4 L1466.9,996.4 L1468.4,996.4 L1470.0,996.4 L1471.5,996.4 L1473.0,996.3 L1474.6,996.3 L1476.1,996.2 L1477.7,996.1 L1479.2,996.0 L1480.0,996.0" fill="none" stroke="#00ADD8" stroke-width="6.3" stroke-linejoin="round"/>
<path d="M250.6,924.4 L252.1,924.1 L253.6,923.8 L255.1,923.5 L256.6,923.3 L258.2,923.0 L259.7,922.8 L261.2,922.7 L262.7,922.5 L264.2,922.4 L265.8,922.3 L267.3,922.2 L268.8,922.1 L270.3,922.1 L271.9,922.0 L273.4,922.0 L274.9,922.0 L276.5,922.0 L278.0,922.0 L279.6,922.0 L281.1,922.0 L282.6,922.0 L284.2,922.0 L285.7,922.1 L287.2,922.1 L288.8,922.1 L290.3,922.1 L291.9,922.2 L293.4,922.2 L294.9,922.2 L296.5,922.2 L298.0,922.2 L299.5,922.1 L301.1,922.1 L302.6,922.1 L304.1,922.0 L305.6,921.9 L307.2,921.8 L308.7,921.7 L310.2,921.6 L311.7,921.4 L313.2,921.3 L314.8,921.1 L316.3,920.8 L317.8,920.6 L319.3,920.3 L320.8,920.0 L322.3,919.7 L323.8,919.3 L325.3,919.0 L326.8,918.6 L328.3,918.2 L329.8,917.8 L331.3,917.4 L332.7,917.0 L334.2,916.6 L335.7,916.2 L337.2,915.8 L338.7,915.4 L340.2,915.0 L341.7,914.6 L343.2,914.2 L344.7,913.9 L346.2,913.5 L347.7,913.2 L349.2,912.9 L350.7,912.6 L352.2,912.4 L353.7,912.2 L355.2,912.0 L356.7,911.9 L358.2,911.8 L359.7,911.7 L361.3,911.7 L362.8,911.7 L364.3,911.7 L365.8,911.8 L367.4,911.9 L368.9,912.0 L370.5,912.2 L372.0,912.4 L373.5,912.6 L375.1,912.7 L376.6,912.9 L378.2,913.2 L379.7,913.4 L381.2,913.6 L382.8,913.8 L384.3,914.0 L385.8,914.1 L387.4,914.3 L388.9,914.4 L390.4,914.6 L392.0,914.7 L393.5,914.7 L395.0,914.8 L396.5,914.7 L398.0,914.7 L399.5,914.6 L401.0,914.5 L402.5,914.3 L404.0,914.1 L405.5,913.9 L407.0,913.6 L408.4,913.3 L409.9,912.9 L411.4,912.5 L412.8,912.1 L414.2,911.6 L415.7,911.1 L417.1,910.6 L418.5,910.0 L419.9,909.4 L421.3,908.8 L422.7,908.1 L424.0,907.4 L425.4,906.7 L426.7,906.0 L428.1,905.2 L429.4,904.4 L430.7,903.6 L432.0,902.8 L433.3,901.9 L434.5,901.0 L435.8,900.1 L437.0,899.2 L438.3,898.3 L439.5,897.3 L440.7,896.3 L441.8,895.4 L443.0,894.4 L444.1,893.3 L445.3,892.3 L446.4,891.3 L447.5,890.2 L448.5,889.1 L449.6,888.0 L450.7,886.9 L451.7,885.8 L452.7,884.7 L453.8,883.6 L454.8,882.4 L455.8,881.3 L456.8,880.1 L457.8,879.0 L458.7,877.8 L459.7,876.6 L460.6,875.4 L461.6,874.2 L462.5,873.0 L463.5,871.8 L464.4,870.6 L465.3,869.4 L466.3,868.2 L467.2,866.9 L468.1,865.7 L469.0,864.5 L469.9,863.2 L470.8,862.0 L471.7,860.8 L472.6,859.5 L473.5,858.3 L474.5,857.0 L475.4,855.8 L476.3,854.6 L477.2,853.3 L478.1,852.1 L479.0,850.9 L479.9,849.6 L480.9,848.4 L481.8,847.2 L482.7,846.0 L483.7,844.8 L484.6,843.6 L485.6,842.4 L486.5,841.2 L487.5,840.0 L488.5,838.8 L489.5,837.6 L490.5,836.5 L491.5,835.3 L492.5,834.2 L493.5,833.0 L494.5,831.9 L495.6,830.8 L496.6,829.6 L497.7,828.5 L498.7,827.4 L499.8,826.3 L500.9,825.2 L502.0,824.1 L503.0,823.0 L504.1,822.0 L505.2,820.9 L506.3,819.8 L507.4,818.7 L508.5,817.6 L509.6,816.5 L510.6,815.5 L511.7,814.4 L512.8,813.3 L513.9,812.2 L515.0,811.1 L516.1,810.1 L517.2,809.0 L518.2,807.9 L519.3,806.8 L520.4,805.7 L521.4,804.6 L522.5,803.5 L523.5,802.4 L524.5,801.3 L525.6,800.1 L526.6,799.0 L527.6,797.9 L528.6,796.7 L529.6,795.6 L530.5,794.4 L531.5,793.2 L532.5,792.0 L533.4,790.9 L534.4,789.7 L535.3,788.5 L536.2,787.3 L537.2,786.1 L538.1,784.9 L539.0,783.6 L539.9,782.4 L540.8,781.2 L541.6,779.9 L542.5,778.7 L543.4,777.4 L544.2,776.2 L545.1,774.9 L545.9,773.7 L546.8,772.4 L547.6,771.1 L548.5,769.9 L549.3,768.6 L550.1,767.3 L550.9,766.0 L551.7,764.7 L552.5,763.4 L553.3,762.1 L554.1,760.8 L554.9,759.5 L555.7,758.2 L556.5,756.9 L557.2,755.6 L558.0,754.2 L558.8,752.9 L559.5,751.6 L560.3,750.3 L561.0,748.9 L561.8,747.6 L562.5,746.3 L563.3,744.9 L564.0,743.6 L564.7,742.2 L565.5,740.9 L566.2,739.5 L566.9,738.2 L567.6,736.8 L568.3,735.4 L569.0,734.1 L569.7,732.7 L570.4,731.3 L571.0,730.0 L571.7,728.6 L572.4,727.2 L573.1,725.8 L573.7,724.4 L574.4,723.1 L575.0,721.7 L575.6,720.3 L576.3,718.9 L576.9,717.5 L577.5,716.1 L578.1,714.7 L578.7,713.3 L579.3,711.9 L579.9,710.5 L580.5,709.0 L581.1,707.6 L581.7,706.2 L582.2,704.8 L582.8,703.4 L583.3,701.9 L583.9,700.5 L584.4,699.1 L585.0,697.6 L585.5,696.2 L586.1,694.8 L586.6,693.3 L587.1,691.9 L587.6,690.4 L588.1,689.0 L588.7,687.6 L589.2,686.1 L589.7,684.7 L590.2,683.2 L590.7,681.8 L591.2,680.3 L591.7,678.9 L592.2,677.4 L592.7,676.0 L593.2,674.6 L593.7,673.1 L594.2,671.7 L594.7,670.2 L595.2,668.8 L595.7,667.3 L596.2,665.9 L596.7,664.4 L597.2,663.0 L597.7,661.5 L598.2,660.1 L598.8,658.7 L599.3,657.2 L599.8,655.8 L600.3,654.3 L600.8,652.9 L601.4,651.5 L601.9,650.0 L602.4,648.6 L603.0,647.2 L603.5,645.8 L604.1,644.3 L604.6,642.9 L605.2,641.5 L605.8,640.1 L606.3,638.7 L606.9,637.3 L607.5,635.8 L608.1,634.4 L608.7,633.0 L609.3,631.6 L609.9,630.2 L610.5,628.8 L611.2,627.5 L611.8,626.1 L612.4,624.7 L613.1,623.3 L613.8,621.9 L614.4,620.6 L615.1,619.2 L615.8,617.8 L616.5,616.5 L617.2,615.1 L617.9,613.8 L618.7,612.4 L619.4,611.1 L620.1,609.7 L620.8,608.4 L621.6,607.0 L622.3,605.7 L623.0,604.4 L623.8,603.0 L624.5,601.7 L625.3,600.3 L626.0,599.0 L626.8,597.7 L627.5,596.3 L628.3,595.0 L629.0,593.6 L629.8,592.3 L630.5,591.0 L631.3,589.6 L632.0,588.3 L632.8,587.0 L633.5,585.6 L634.2,584.3 L635.0,582.9 L635.7,581.6 L636.4,580.2 L637.1,578.9 L637.8,577.5 L638.5,576.1 L639.2,574.8 L639.9,573.4 L640.6,572.1 L641.3,570.7 L641.9,569.3 L642.6,567.9 L643.3,566.6 L643.9,565.2 L644.6,563.8 L645.2,562.4 L645.8,561.1 L646.5,559.7 L647.1,558.3 L647.7,556.9 L648.4,555.5 L649.0,554.1 L649.6,552.7 L650.2,551.3 L650.8,549.9 L651.4,548.5 L652.0,547.1 L652.6,545.7 L653.2,544.3 L653.8,542.9 L654.4,541.5 L654.9,540.1 L655.5,538.7 L656.1,537.3 L656.7,535.8 L657.2,534.4 L657.8,533.0 L658.3,531.6 L658.9,530.2 L659.5,528.8 L660.0,527.3 L660.6,525.9 L661.1,524.5 L661.7,523.1 L662.2,521.6 L662.8,520.2 L663.3,518.8 L663.8,517.4 L664.4,515.9 L664.9,514.5 L665.4,513.1 L666.0,511.6 L666.5,510.2 L667.0,508.8 L667.6,507.3 L668.1,505.9 L668.6,504.5 L669.1,503.0 L669.7,501.6 L670.2,500.2 L670.7,498.7 L671.2,497.3 L671.7,495.8 L672.3,494.4 L672.8,493.0 L673.3,491.5 L673.8,490.1 L674.3,488.6 L674.8,487.2 L675.3,485.8 L675.8,484.3 L676.3,482.9 L676.9,481.4 L677.4,480.0 L677.9,478.5 L678.4,477.1 L678.9,475.7 L679.4,474.2 L679.9,472.8 L680.4,471.3 L680.9,469.9 L681.4,468.4 L681.9,467.0 L682.4,465.5 L682.9,464.1 L683.4,462.6 L683.9,461.2 L684.4,459.8 L684.9,458.3 L685.4,456.9 L685.9,455.4 L686.4,454.0 L686.9,452.5 L687.4,451.1 L687.9,449.6 L688.4,448.2 L689.0,446.7 L689.5,445.3 L690.0,443.9 L690.5,442.4 L691.0,441.0 L691.5,439.5 L692.0,438.1 L692.5,436.6 L693.0,435.2 L693.5,433.7 L694.0,432.3 L694.5,430.9 L695.0,429.4 L695.6,428.0 L696.1,426.5 L696.6,425.1 L697.1,423.6 L697.6,422.2 L698.1,420.8 L698.6,419.3 L699.2,417.9 L699.7,416.4 L700.2,415.0 L700.7,413.6 L701.2,412.1 L701.7,410.7 L702.2,409.2 L702.8,407.8 L703.3,406.4 L703.8,404.9 L704.3,403.5 L704.8,402.0 L705.3,400.6 L705.9,399.2 L706.4,397.7 L706.9,396.3 L707.4,394.8 L707.9,393.4 L708.4,392.0 L709.0,390.5 L709.5,389.1 L710.0,387.6 L710.5,386.2 L711.0,384.8 L711.5,383.3 L712.0,381.9 L712.5,380.4 L713.1,379.0 L713.6,377.6 L714.1,376.1 L714.6,374.7 L715.1,373.2 L715.6,371.8 L716.1,370.4 L716.6,368.9 L717.1,367.5 L717.6,366.0 L718.1,364.6 L718.6,363.1 L719.1,361.7 L719.6,360.3 L720.1,358.8 L720.6,357.4 L721.1,355.9 L721.6,354.5 L722.1,353.0 L722.6,351.6 L723.1,350.1 L723.6,348.7 L724.1,347.2 L724.6,345.8 L725.1,344.3 L725.6,342.9 L726.0,341.5 L726.5,340.0 L727.0,338.6 L727.5,337.1 L728.0,335.7 L728.4,334.2 L728.9,332.7 L729.4,331.3 L729.9,329.8 L730.3,328.4 L730.8,326.9 L731.3,325.5 L731.7,324.0 L732.2,322.6 L732.7,321.1 L733.1,319.7 L733.6,318.2 L734.0,316.7 L734.5,315.3 L734.9,313.8 L735.4,312.4 L735.9,310.9 L736.3,309.4 L736.8,308.0 L737.2,306.5 L737.6,305.1 L738.1,303.6 L738.5,302.1 L739.0,300.7 L739.4,299.2 L739.9,297.7 L740.3,296.3 L740.7,294.8 L741.2,293.4 L741.6,291.9 L742.0,290.4 L742.5,289.0 L742.9,287.5 L743.3,286.0 L743.8,284.6 L744.2,283.1 L744.6,281.6 L745.1,280.2 L745.5,278.7 L745.9,277.2 L746.3,275.8 L746.8,274.3 L747.2,272.8 L747.6,271.4 L748.0,269.9 L748.5,268.4 L748.9,267.0 L749.3,265.5 L749.7,264.0 L750.1,262.5 L750.6,261.1 L751.0,259.6 L751.4,258.1 L751.8,256.7 L752.2,255.2 L752.7,253.7 L753.1,252.3 L753.5,250.8 L753.9,249.3 L754.4,247.9 L754.8,246.4 L755.2,244.9 L755.6,243.5 L756.1,242.0 L756.5,240.5 L756.9,239.1 L757.4,237.6 L757.8,236.1 L758.2,234.7 L758.7,233.2 L759.1,231.7 L759.6,230.3 L760.0,228.8 L760.5,227.4 L760.9,225.9 L761.4,224.4 L761.8,223.0 L762.3,221.5 L762.7,220.1 L763.2,218.6 L763.7,217.2 L764.1,215.7 L764.6,214.3 L765.1,212.8 L765.6,211.4 L766.0,209.9 L766.5,208.5 L767.0,207.0 L767.5,205.6 L768.0,204.1 L768.5,202.7 L769.0,201.2 L769.5,199.8 L770.0,198.3 L770.6,196.9 L771.1,195.5 L771.6,194.0 L772.1,192.6 L772.7,191.2 L773.2,189.7 L773.7,188.3 L774.3,186.8 L774.8,185.4 L775.4,184.0 L775.9,182.6 L776.5,181.1 L777.0,179.7 L777.6,178.3 L778.1,176.8 L778.7,175.4 L779.2,174.0 L779.8,172.6 L780.4,171.1 L780.9,169.7 L781.5,168.3 L782.1,166.9 L782.6,165.4 L783.2,164.0 L783.8,162.6 L784.4,161.2 L784.9,159.8 L785.5,158.3 L786.1,156.9 L786.7,155.5 L787.2,154.1 L787.8,152.7 L788.4,151.3 L789.0,149.8 L789.6,148.4 L790.1,147.0 L790.7,145.6 L791.3,144.2 L791.9,142.8 L792.5,141.4 L793.1,140.0 L793.7,138.6 L794.4,137.2 L795.0,135.8 L795.6,134.4 L796.3,133.1 L796.9,131.7 L797.6,130.3 L798.2,129.0 L798.9,127.6 L799.6,126.3 L800.3,124.9 L801.0,123.6 L801.8,122.2 L802.5,120.9 L803.3,119.6 L804.0,118.3 L804.8,117.0 L805.6,115.7 L806.4,114.4 L807.2,113.1 L808.1,111.9 L808.9,110.6 L809.8,109.4 L810.7,108.1 L811.6,106.9 L812.5,105.7 L813.5,104.5 L814.4,103.3 L815.4,102.1 L816.4,100.9 L817.4,99.8 L818.4,98.6 L819.5,97.5 L820.5,96.4 L821.6,95.3 L822.7,94.2 L823.7,93.1 L824.9,92.1 L826.0,91.0 L827.1,90.0 L828.3,89.0 L829.4,88.0 L830.6,87.1 L831.8,86.1 L833.0,85.2 L834.2,84.3 L835.4,83.4 L836.7,82.5 L837.9,81.6 L839.2,80.8 L840.4,80.0 L842.4,78.9 L844.4,77.9 L846.4,77.0 L848.5,76.3 L850.7,75.7 L852.9,75.2 L854.4,75.0 L855.9,74.9 L857.4,74.9 L858.9,74.9 L860.5,75.0 L862.0,75.1 L863.5,75.4 L865.0,75.6 L866.6,76.0 L868.1,76.4 L869.5,76.8 L871.0,77.4 L872.4,77.9 L873.8,78.5 L875.2,79.2 L876.5,79.9 L877.9,80.6 L879.2,81.4 L880.5,82.3 L881.7,83.1 L883.0,84.0 L884.2,85.0 L885.4,85.9 L886.6,86.9 L887.7,87.9 L888.9,88.9 L890.0,90.0 L891.2,91.0 L892.3,92.1 L893.4,93.2 L894.5,94.3 L895.6,95.4 L896.6,96.5 L897.7,97.6 L898.7,98.7 L899.8,99.8 L900.8,101.0 L901.8,102.1 L902.8,103.3 L903.8,104.5 L904.8,105.6 L905.8,106.8 L906.8,108.0 L907.7,109.2 L908.7,110.4 L909.6,111.6 L910.5,112.8 L911.5,114.0 L912.4,115.2 L913.3,116.4 L914.2,117.7 L915.1,118.9 L915.9,120.2 L916.8,121.4 L917.7,122.7 L918.5,123.9 L919.4,125.2 L920.2,126.4 L921.0,127.7 L921.9,129.0 L922.7,130.3 L923.5,131.5 L924.3,132.8 L925.1,134.1 L925.9,135.4 L926.7,136.7 L927.4,138.0 L928.2,139.3 L929.0,140.7 L929.7,142.0 L930.5,143.3 L931.2,144.6 L932.0,146.0 L932.7,147.3 L933.4,148.6 L934.2,150.0 L934.9,151.3 L935.6,152.7 L936.3,154.0 L937.0,155.4 L937.7,156.7 L938.4,158.1 L939.1,159.4 L939.7,160.8 L940.4,162.2 L941.1,163.6 L941.8,164.9 L942.4,166.3 L943.1,167.7 L943.7,169.1 L944.4,170.5 L945.0,171.8 L945.7,173.2 L946.3,174.6 L947.0,176.0 L947.6,177.4 L948.2,178.8 L948.9,180.2 L949.5,181.6 L950.1,183.0 L950.7,184.4 L951.4,185.8 L952.0,187.2 L952.6,188.6 L953.2,190.0 L953.8,191.5 L954.4,192.9 L955.0,194.3 L955.6,195.7 L956.2,197.1 L956.8,198.5 L957.4,199.9 L958.0,201.4 L958.6,202.8 L959.2,204.2 L959.8,205.6 L960.4,207.0 L961.0,208.4 L961.6,209.9 L962.2,211.3 L962.8,212.7 L963.4,214.1 L964.0,215.5 L964.5,217.0 L965.1,218.4 L965.7,219.8 L966.3,221.2 L966.9,222.6 L967.5,224.0 L968.1,225.5 L968.7,226.9 L969.3,228.3 L969.9,229.7 L970.5,231.1 L971.1,232.5 L971.7,233.9 L972.3,235.3 L972.9,236.8 L973.5,238.2 L974.1,239.6 L974.7,241.0 L975.3,242.4 L975.9,243.8 L976.5,245.2 L977.2,246.6 L977.8,248.0 L978.4,249.4 L979.0,250.8 L979.6,252.2 L980.2,253.6 L980.8,255.0 L981.4,256.4 L982.1,257.8 L982.7,259.2 L983.3,260.6 L983.9,262.0 L984.5,263.4 L985.1,264.7 L985.7,266.1 L986.3,267.5 L986.9,268.9 L987.5,270.3 L988.1,271.7 L988.8,273.1 L989.4,274.5 L990.0,275.9 L990.5,277.3 L991.1,278.7 L991.7,280.1 L992.3,281.5 L992.9,283.0 L993.5,284.4 L994.1,285.8 L994.7,287.2 L995.2,288.6 L995.8,290.0 L996.4,291.4 L997.0,292.8 L997.5,294.2 L998.1,295.6 L998.6,297.1 L999.2,298.5 L999.8,299.9 L1000.3,301.3 L1000.8,302.7 L1001.4,304.2 L1001.9,305.6 L1002.4,307.0 L1003.0,308.5 L1003.5,309.9 L1004.0,311.3 L1004.5,312.8 L1005.0,314.2 L1005.5,315.7 L1006.0,317.1 L1006.5,318.6 L1007.0,320.0 L1007.5,321.5 L1008.0,322.9 L1008.5,324.4 L1008.9,325.8 L1009.4,327.3 L1009.9,328.7 L1010.4,330.2 L1010.8,331.7 L1011.3,333.1 L1011.8,334.6 L1012.3,336.0 L1012.7,337.5 L1013.2,339.0 L1013.7,340.4 L1014.2,341.9 L1014.6,343.3 L1015.1,344.8 L1015.6,346.2 L1016.1,347.7 L1016.6,349.1 L1017.1,350.6 L1017.6,352.0 L1018.1,353.5 L1018.6,354.9 L1019.1,356.4 L1019.6,357.8 L1020.1,359.3 L1020.6,360.7 L1021.1,362.1 L1021.7,363.6 L1022.2,365.0 L1022.7,366.4 L1023.2,367.9 L1023.8,369.3 L1024.3,370.7 L1024.9,372.2 L1025.4,373.6 L1025.9,375.0 L1026.5,376.5 L1027.0,377.9 L1027.6,379.3 L1028.1,380.7 L1028.6,382.2 L1029.2,383.6 L1029.7,385.0 L1030.3,386.5 L1030.8,387.9 L1031.4,389.3 L1031.9,390.7 L1032.5,392.2 L1033.0,393.6 L1033.6,395.0 L1034.1,396.4 L1034.6,397.9 L1035.2,399.3 L1035.7,400.7 L1036.3,402.1 L1036.8,403.6 L1037.3,405.0 L1037.9,406.4 L1038.4,407.9 L1039.0,409.3 L1039.5,410.7 L1040.0,412.2 L1040.6,413.6 L1041.1,415.0 L1041.6,416.5 L1042.1,417.9 L1042.7,419.3 L1043.2,420.7 L1043.7,422.2 L1044.3,423.6 L1044.8,425.1 L1045.3,426.5 L1045.8,427.9 L1046.4,429.4 L1046.9,430.8 L1047.4,432.2 L1047.9,433.7 L1048.5,435.1 L1049.0,436.5 L1049.5,438.0 L1050.0,439.4 L1050.5,440.8 L1051.1,442.3 L1051.6,443.7 L1052.1,445.2 L1052.6,446.6 L1053.1,448.0 L1053.7,449.5 L1054.2,450.9 L1054.7,452.4 L1055.2,453.8 L1055.7,455.2 L1056.2,456.7 L1056.8,458.1 L1057.3,459.5 L1057.8,461.0 L1058.3,462.4 L1058.8,463.9 L1059.4,465.3 L1059.9,466.7 L1060.4,468.2 L1060.9,469.6 L1061.4,471.1 L1061.9,472.5 L1062.5,473.9 L1063.0,475.4 L1063.5,476.8 L1064.0,478.3 L1064.5,479.7 L1065.0,481.1 L1065.6,482.6 L1066.1,484.0 L1066.6,485.4 L1067.1,486.9 L1067.6,488.3 L1068.2,489.8 L1068.7,491.2 L1069.2,492.6 L1069.7,494.1 L1070.3,495.5 L1070.8,496.9 L1071.3,498.4 L1071.8,499.8 L1072.3,501.3 L1072.9,502.7 L1073.4,504.1 L1073.9,505.6 L1074.5,507.0 L1075.0,508.4 L1075.5,509.9 L1076.0,511.3 L1076.6,512.7 L1077.1,514.2 L1077.6,515.6 L1078.2,517.0 L1078.7,518.5 L1079.2,519.9 L1079.8,521.3 L1080.3,522.8 L1080.8,524.2 L1081.4,525.6 L1081.9,527.1 L1082.5,528.5 L1083.0,529.9 L1083.5,531.4 L1084.1,532.8 L1084.6,534.2 L1085.2,535.6 L1085.7,537.1 L1086.3,538.5 L1086.8,539.9 L1087.4,541.4 L1087.9,542.8 L1088.5,544.2 L1089.0,545.6 L1089.6,547.1 L1090.1,548.5 L1090.7,549.9 L1091.2,551.3 L1091.8,552.7 L1092.4,554.2 L1092.9,555.6 L1093.5,557.0 L1094.1,558.4 L1094.6,559.9 L1095.2,561.3 L1095.8,562.7 L1096.3,564.1 L1096.9,565.5 L1097.5,566.9 L1098.0,568.4 L1098.6,569.8 L1099.2,571.2 L1099.8,572.6 L1100.3,574.0 L1100.9,575.4 L1101.5,576.9 L1102.1,578.3 L1102.6,579.7 L1103.2,581.1 L1103.8,582.5 L1104.4,583.9 L1105.0,585.3 L1105.6,586.7 L1106.2,588.2 L1106.7,589.6 L1107.3,591.0 L1107.9,592.4 L1108.5,593.8 L1109.1,595.2 L1109.7,596.6 L1110.3,598.0 L1110.9,599.4 L1111.5,600.8 L1112.1,602.2 L1112.7,603.7 L1113.3,605.1 L1113.9,606.5 L1114.5,607.9 L1115.1,609.3 L1115.7,610.7 L1116.3,612.1 L1116.9,613.5 L1117.5,614.9 L1118.1,616.3 L1118.7,617.7 L1119.4,619.1 L1120.0,620.5 L1120.6,621.9 L1121.2,623.3 L1121.8,624.7 L1122.4,626.1 L1123.0,627.5 L1123.7,628.9 L1124.3,630.3 L1124.9,631.7 L1125.5,633.1 L1126.1,634.5 L1126.8,635.9 L1127.4,637.2 L1128.0,638.6 L1128.7,640.0 L1129.3,641.4 L1129.9,642.8 L1130.5,644.2 L1131.2,645.6 L1131.8,647.0 L1132.4,648.4 L1133.1,649.8 L1133.7,651.2 L1134.3,652.6 L1135.0,653.9 L1135.6,655.3 L1136.3,656.7 L1136.9,658.1 L1137.5,659.5 L1138.2,660.9 L1138.8,662.3 L1139.5,663.6 L1140.1,665.0 L1140.8,666.4 L1141.4,667.8 L1142.1,669.2 L1142.7,670.6 L1143.4,671.9 L1144.0,673.3 L1144.7,674.7 L1145.3,676.1 L1146.0,677.5 L1146.7,678.8 L1147.3,680.2 L1148.0,681.6 L1148.6,683.0 L1149.3,684.3 L1150.0,685.7 L1150.7,687.1 L1151.3,688.5 L1152.0,689.8 L1152.7,691.2 L1153.3,692.6 L1154.0,693.9 L1154.7,695.3 L1155.4,696.7 L1156.1,698.0 L1156.8,699.4 L1157.4,700.8 L1158.1,702.1 L1158.8,703.5 L1159.5,704.9 L1160.2,706.2 L1160.9,707.6 L1161.6,708.9 L1162.3,710.3 L1163.0,711.6 L1163.7,713.0 L1164.4,714.4 L1165.1,715.7 L1165.8,717.1 L1166.5,718.4 L1167.3,719.8 L1168.0,721.1 L1168.7,722.5 L1169.4,723.8 L1170.1,725.2 L1170.9,726.5 L1171.6,727.9 L1172.3,729.2 L1173.0,730.5 L1173.8,731.9 L1174.5,733.2 L1175.2,734.6 L1176.0,735.9 L1176.7,737.2 L1177.5,738.6 L1178.2,739.9 L1179.0,741.2 L1179.7,742.6 L1180.5,743.9 L1181.2,745.2 L1182.0,746.6 L1182.8,747.9 L1183.5,749.2 L1184.3,750.5 L1185.1,751.9 L1185.8,753.2 L1186.6,754.5 L1187.4,755.8 L1188.2,757.1 L1188.9,758.4 L1189.7,759.8 L1190.5,761.1 L1191.3,762.4 L1192.1,763.7 L1192.9,765.0 L1193.7,766.3 L1194.5,767.6 L1195.3,768.9 L1196.1,770.2 L1196.9,771.5 L1197.7,772.8 L1198.5,774.1 L1199.3,775.4 L1200.1,776.7 L1200.9,778.0 L1201.8,779.3 L1202.6,780.6 L1203.4,781.9 L1204.2,783.2 L1205.1,784.5 L1205.9,785.7 L1206.7,787.0 L1207.6,788.3 L1208.4,789.6 L1209.3,790.9 L1210.1,792.1 L1211.0,793.4 L1211.8,794.7 L1212.7,795.9 L1213.5,797.2 L1214.4,798.5 L1215.2,799.7 L1216.1,801.0 L1217.0,802.3 L1217.8,803.5 L1218.7,804.8 L1219.6,806.0 L1220.5,807.3 L1221.3,808.5 L1222.2,809.8 L1223.1,811.0 L1224.0,812.3 L1224.9,813.5 L1225.8,814.8 L1226.7,816.0 L1227.6,817.3 L1228.5,818.5 L1229.4,819.7 L1230.3,821.0 L1231.2,822.2 L1232.1,823.4 L1233.0,824.6 L1233.9,825.9 L1234.8,827.1 L1235.8,828.3 L1236.7,829.5 L1237.6,830.7 L1238.6,832.0 L1239.5,833.2 L1240.4,834.4 L1241.4,835.6 L1242.3,836.8 L1243.2,838.0 L1244.2,839.2 L1245.1,840.4 L1246.1,841.6 L1247.0,842.8 L1248.0,844.0 L1248.9,845.2 L1249.9,846.3 L1250.9,847.5 L1251.8,848.7 L1252.8,849.9 L1253.8,851.1 L1254.8,852.2 L1255.7,853.4 L1256.7,854.6 L1257.7,855.7 L1258.7,856.9 L1259.7,858.1 L1260.7,859.2 L1261.7,860.4 L1262.7,861.5 L1263.7,862.7 L1264.7,863.9 L1265.7,865.0 L1266.7,866.1 L1267.7,867.3 L1268.7,868.4 L1269.7,869.6 L1270.7,870.7 L1271.8,871.8 L1272.8,873.0 L1273.8,874.1 L1274.8,875.2 L1275.9,876.3 L1276.9,877.5 L1278.0,878.6 L1279.0,879.7 L1280.1,880.8 L1281.1,881.9 L1282.2,883.0 L1283.2,884.1 L1284.3,885.2 L1285.3,886.3 L1286.4,887.4 L1287.5,888.5 L1288.5,889.6 L1289.6,890.7 L1290.7,891.8 L1291.8,892.9 L1292.8,893.9 L1293.9,895.0 L1295.0,896.1 L1296.1,897.2 L1297.2,898.2 L1298.3,899.3 L1299.4,900.3 L1300.5,901.4 L1301.7,902.4 L1302.8,903.5 L1303.9,904.5 L1305.0,905.5 L1306.2,906.6 L1307.3,907.6 L1308.5,908.6 L1309.6,909.6 L1310.8,910.6 L1311.9,911.6 L1313.1,912.6 L1314.3,913.5 L1315.4,914.5 L1316.6,915.5 L1317.8,916.4 L1319.0,917.4 L1320.2,918.3 L1321.4,919.2 L1322.7,920.1 L1323.9,921.0 L1325.1,921.9 L1326.4,922.8 L1327.6,923.7 L1328.8,924.6 L1330.1,925.5 L1331.3,926.3 L1332.6,927.2 L1333.9,928.1 L1335.1,928.9 L1336.4,929.8 L1337.7,930.6 L1339.0,931.4 L1340.2,932.3 L1341.5,933.1 L1342.8,933.9 L1344.1,934.8 L1345.4,935.6 L1346.7,936.4 L1348.0,937.2 L1349.3,938.1 L1350.6,938.9 L1351.8,939.7 L1353.1,940.5 L1354.4,941.3 L1355.7,942.1 L1357.0,942.9 L1358.3,943.8 L1359.6,944.6 L1360.9,945.4 L1362.2,946.2 L1363.5,947.0 L1364.8,947.8 L1366.1,948.6 L1367.4,949.4 L1368.7,950.2 L1370.0,951.0 L1371.3,951.8 L1372.6,952.6 L1373.9,953.4 L1375.2,954.2 L1376.5,955.0 L1377.9,955.7 L1379.2,956.5 L1380.5,957.3 L1381.8,958.0 L1383.2,958.7 L1384.5,959.5 L1385.8,960.2 L1387.2,960.9 L1388.5,961.6 L1389.9,962.3 L1391.3,962.9 L1392.6,963.6 L1394.0,964.3 L1395.4,964.9 L1396.8,965.5 L1398.2,966.1 L1399.6,966.8 L1401.0,967.3 L1402.4,967.9 L1403.8,968.5 L1405.2,969.1 L1406.6,969.6 L1408.0,970.2 L1409.5,970.7 L1410.9,971.2 L1412.3,971.7 L1413.8,972.2 L1415.2,972.7 L1416.7,973.2 L1418.1,973.7 L1419.6,974.2 L1421.1,974.6 L1422.5,975.1 L1424.0,975.6 L1425.5,976.0 L1426.9,976.4 L1428.4,976.9 L1429.9,977.3 L1431.4,977.7 L1432.8,978.1 L1434.3,978.5 L1435.8,978.9 L1437.3,979.3 L1438.8,979.6 L1440.3,980.0 L1441.8,980.4 L1443.3,980.7 L1444.7,981.1 L1446.2,981.5 L1447.7,981.8 L1449.2,982.1 L1450.7,982.5 L1452.2,982.8 L1453.7,983.1 L1455.2,983.5 L1456.7,983.8 L1458.2,984.1 L1459.7,984.4 L1461.2,984.7 L1462.7,985.1 L1464.2,985.4 L1465.7,985.7 L1467.2,986.0 L1468.6,986.3 L1470.1,986.6 L1471.6,986.9 L1473.1,987.2 L1474.6,987.5 L1476.1,987.7 L1477.6,988.0 L1479.0,988.3 L1479.8,988.5" fill="none" stroke="#FF4327" stroke-width="6.3" stroke-linejoin="round"/>
<path d="M252.5,981.6 L266.0,981.6 L284.3,984.7 L322.9,987.0 L367.2,983.2 L398.0,970.3 L413.4,964.9 L438.5,946.6 L469.3,918.6 L488.1,900.0 L499.6,886.7 L515.0,866.5 L526.5,849.2 L536.2,833.8 L545.8,816.5 L555.4,800.0 L565.0,771.5 L576.5,750.4 L582.3,725.4 L590.0,704.2 L595.8,685.0 L601.5,667.7 L605.4,650.4 L609.2,638.8 L616.9,623.5 L620.8,606.2 L624.6,585.0 L628.5,573.5 L635.2,560.0 L640.3,533.0 L646.9,520.0 L653.7,493.5 L662.6,471.1 L669.4,450.9 L673.8,424.0 L682.8,401.5 L691.8,379.1 L697.4,356.7 L699.7,336.5 L705.3,320.8 L712.0,300.6 L715.4,284.9 L720.2,270.0 L727.4,242.9 L736.1,219.8 L743.3,199.6 L754.8,179.4 L757.7,160.7 L763.5,144.8 L772.1,127.5 L779.3,111.6 L789.4,98.7 L796.0,88.0 L800.3,81.7 L803.1,78.5 L809.3,76.2 L818.5,75.0 L824.3,75.0 L830.1,77.0 L835.0,80.0 L840.0,83.1 L846.5,88.2 L856.4,97.8 L865.7,110.6 L876.0,123.5 L884.3,136.3 L891.7,149.1 L900.0,162.0 L909.6,176.2 L919.2,195.4 L925.7,211.5 L932.1,229.1 L938.5,248.3 L943.3,261.2 L951.3,277.2 L952.6,282.1 L956.4,297.4 L960.3,310.3 L967.9,323.1 L973.1,333.3 L977.6,350.0 L982.1,360.3 L987.8,371.8 L988.5,379.5 L989.1,389.7 L993.6,401.3 L1000.0,416.7 L1006.4,432.1 L1012.8,447.4 L1017.9,462.8 L1023.1,478.2 L1029.5,493.6 L1034.6,510.4 L1041.0,528.3 L1047.4,543.7 L1053.8,554.0 L1057.7,566.8 L1062.8,582.2 L1066.7,597.6 L1074.4,613.0 L1083.3,627.0 L1089.6,638.7 L1092.5,652.1 L1099.2,662.7 L1107.9,676.2 L1114.8,690.0 L1122.0,704.4 L1128.4,718.8 L1135.6,731.7 L1142.1,744.5 L1149.3,757.3 L1155.7,766.9 L1161.3,778.1 L1166.1,788.6 L1170.0,795.1 L1176.4,804.6 L1184.1,811.2 L1191.8,821.3 L1200.8,832.8 L1209.7,845.6 L1217.4,855.9 L1220.0,861.9 L1232.8,872.2 L1245.6,885.0 L1252.0,892.7 L1264.9,901.0 L1277.2,914.3 L1284.4,918.7 L1290.2,924.4 L1295.0,930.7 L1299.8,935.5 L1308.5,940.8 L1318.1,945.6 L1325.6,947.8 L1338.5,952.3 L1348.1,956.2 L1354.5,963.8 L1364.1,967.1 L1370.5,968.3 L1380.0,974.0 L1390.8,976.9 L1401.6,981.2 L1416.1,985.6 L1430.5,989.9 L1444.9,993.5 L1459.4,996.4 L1479.9,999.6" fill="none" stroke="#404040" stroke-width="6.3" stroke-linejoin="round"/>
<text x="217.3" y="1040.6" text-anchor="end" class="t">0.0</text>
<text x="217.3" y="851.8" text-anchor="end" class="t">0.2</text>
<text x="217.3" y="663.0" text-anchor="end" class="t">0.4</text>
<text x="217.3" y="474.3" text-anchor="end" class="t">0.6</text>
<text x="217.3" y="285.5" text-anchor="end" class="t">0.8</text>
<clipPath id="c1"><rect x="0" y="0" width="400" height="90.4"/><rect x="134.9" y="0" width="7" height="200"/><rect x="157" y="0" width="100" height="200"/></clipPath>
<text y="96.7" class="t" clip-path="url(#c1)"><tspan x="115.9">1</tspan><tspan x="153.7">.0</tspan></text>
<text x="250.6" y="1110.3" text-anchor="middle" class="t">400</text>
<text x="659.9" y="1110.3" text-anchor="middle" class="t">500</text>
<text x="1069.2" y="1110.3" text-anchor="middle" class="t">600</text>
<text x="1478.5" y="1110.3" text-anchor="middle" class="t">700</text>
<text x="865.6" y="1202" text-anchor="middle" class="ti">Wavelength / nm</text>
<text transform="translate(87,523.3) rotate(-90)" x="0" y="0" text-anchor="middle" class="ti">Normalized Intensity</text>
<line x1="1116.3" y1="175.8" x2="1242.6" y2="175.8" stroke="#00ADD8" stroke-width="6.3" stroke-linecap="round"/>
<text x="1257" y="195.1" class="lg">Dy-Br</text>
<line x1="1116.3" y1="246.3" x2="1242.6" y2="246.3" stroke="#FF4327" stroke-width="6.3" stroke-linecap="round"/>
<text x="1257" y="265.4" class="lg">Dy-Cl</text>
<line x1="1116.3" y1="317.2" x2="1242.6" y2="317.2" stroke="#404040" stroke-width="6.3" stroke-linecap="round"/>
<text x="1257" y="335.6" class="lg">Dy-H</text>
</svg>
</body></html>
